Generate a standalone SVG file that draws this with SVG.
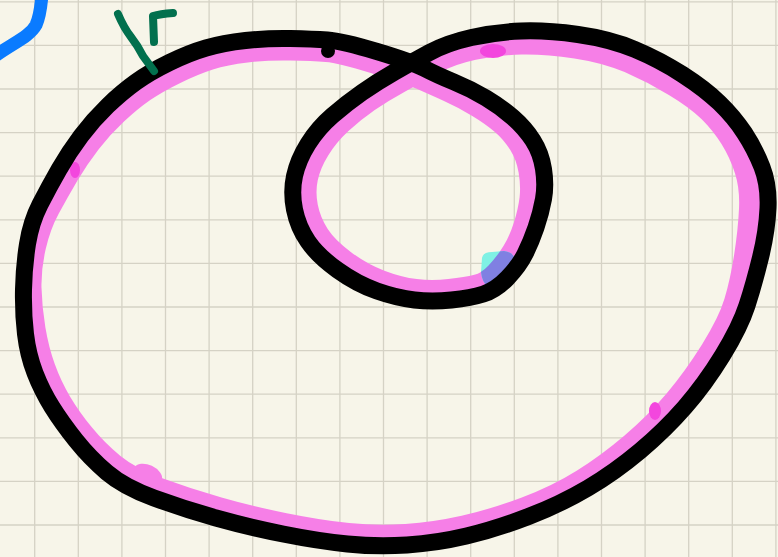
<svg xmlns="http://www.w3.org/2000/svg" xmlns:xlink="http://www.w3.org/1999/xlink" width="778" height="557" viewBox="0 0 778 557">
<style>
.grid{stroke:#d5d2c5;stroke-width:1.3;fill:none}
.ink{fill:none;stroke-linecap:round;stroke-linejoin:round}
.blk{stroke:#000;stroke-width:17}
.pnk{stroke:#f67fe7;stroke-width:22}
.dot{fill:#f346de}
</style>
<defs>
<path id="curve" d="M424.5,68.5 Q412,62 377,51.5 Q342,41 327.5,40 Q313,39 290.5,38.5 Q268,38 245.5,40.5 Q223,43 206,48 Q189,53 169.5,62.5 Q150,72 136,82 Q122,92 107.5,106 Q93,120 81,136 Q69,152 59,169.5 Q49,187 40,204.5 Q31,222 27.5,244 Q24,266 23.5,289.5 Q23,313 25.5,334 Q28,355 35,373 Q42,391 52,407 Q62,423 76,440.5 Q90,458 107,472.5 Q124,487 154,498 Q184,509 216,518 Q248,527 283,534 Q318,541 347.5,544 Q377,547 407,545 Q437,543 466.5,536 Q496,529 528.5,516.5 Q561,504 588,488 Q615,472 640,451 Q665,430 685,407 Q705,384 722.5,355.5 Q740,327 747,305.5 Q754,284 760.5,257.5 Q767,231 768,208 Q769,185 762,167 Q755,149 744.5,133 Q734,117 719.5,103 Q705,89 682.5,74.5 Q660,60 635,49.5 Q610,39 578,34.5 Q546,30 521,31 Q496,32 471.5,37.5 Q447,43 429.5,52.5 Q412,62 394.5,72 Q377,82 362,92.5 Q347,103 332.5,115.5 Q318,128 308,144 Q298,160 294.5,176 Q291,192 294.5,209.5 Q298,227 308,241.5 Q318,256 337.5,270 Q357,284 377,291 Q397,298 414.5,300 Q432,302 451.5,300 Q471,298 483.5,294 Q496,290 507.5,278 Q519,266 525,254 Q531,242 536,227.5 Q541,213 543.5,199 Q546,185 543.5,169 Q541,153 533,140.5 Q525,128 513,117.5 Q501,107 486,98 Q471,89 454,82 Q437,75 424.5,68.5 Z"/>
<path id="pcurve" d="M420.5,78.5 Q408,73 374,62.5 Q340,52 326.5,51 Q313,50 290.5,49.5 Q268,49 246.5,51.5 Q225,54 209.5,59 Q194,64 175.5,73 Q157,82 144,91 Q131,100 116.5,113.5 Q102,127 90,142.5 Q78,158 68,175 Q58,192 49,208.5 Q40,225 35,246.5 Q30,268 30.5,288 Q31,308 34.5,329 Q38,350 44.5,368 Q51,386 60.5,402 Q70,418 83.5,434.5 Q97,451 113.5,464.5 Q130,478 158.5,488.5 Q187,499 218.5,508 Q250,517 284.5,524 Q319,531 348,534 Q377,537 406,535 Q435,533 464,526.5 Q493,520 525,508 Q557,496 582.5,480 Q608,464 632,443.5 Q656,423 675,400.5 Q694,378 711.5,350 Q729,322 735,302 Q741,282 745,256.5 Q749,231 750,209 Q751,187 745.5,170 Q740,153 731,138.5 Q722,124 709.5,111.5 Q697,99 674.5,85.5 Q652,72 629,62 Q606,52 576,47.5 Q546,43 521.5,43.5 Q497,44 473.5,49 Q450,54 433,63.5 Q416,73 399.5,82 Q383,91 368.5,101 Q354,111 341,123 Q328,135 319,149.5 Q310,164 307,178 Q304,192 307,207 Q310,222 318.5,235 Q327,248 344.5,261 Q362,274 380.5,281 Q399,288 415.5,290 Q432,292 449.5,290 Q467,288 477,285.5 Q487,283 496.5,273 Q506,263 513,251.5 Q520,240 524.5,225.5 Q529,211 530.5,198.5 Q532,186 529.5,171 Q527,156 519.5,144 Q512,132 502,123.5 Q492,115 478,106.5 Q464,98 448.5,91 Q433,84 420.5,78.5 Z"/>
<clipPath id="blob"><path d="M482,258 Q483,252 492,252 L504,251 Q512,252 514,257 L516,268 L498,290 L488,287 Q482,282 481,272 Z"/></clipPath>
</defs>
<rect width="778" height="557" fill="#f7f5e9"/>
<g id="grid" class="grid">
<path d="M34.7,0V557M78.3,0V557M121.9,0V557M165.5,0V557M209.1,0V557M252.7,0V557M296.3,0V557M339.9,0V557M383.5,0V557M427.1,0V557M470.7,0V557M514.3,0V557M557.9,0V557M601.5,0V557M645.1,0V557M688.7,0V557M732.3,0V557M775.9,0V557"/>
<path d="M0,1.8H778M0,45.4H778M0,89H778M0,132.6H778M0,176.2H778M0,219.8H778M0,263.4H778M0,307H778M0,350.6H778M0,394.2H778M0,437.8H778M0,481.4H778M0,525H778"/>
</g>
<g id="highlight">
<use xlink:href="#pcurve" class="ink pnk"/>
<ellipse cx="148" cy="474" rx="15" ry="9" fill="#f67fe7" transform="rotate(25 148 474)"/>
<ellipse cx="440" cy="527" rx="18" ry="6" fill="#f67fe7" transform="rotate(-10 440 527)"/>
<ellipse class="dot" cx="493" cy="51" rx="13" ry="7"/>
<ellipse class="dot" cx="75" cy="170" rx="5" ry="8"/>
<ellipse class="dot" cx="655" cy="411" rx="6" ry="9"/>
</g>
<g id="cyan-mark">
<path d="M482,258 Q483,252 492,252 L504,251 Q512,252 514,257 L516,268 L498,290 L488,287 Q482,282 481,272 Z" fill="#7ff1e4"/>
<use xlink:href="#pcurve" class="ink" stroke="#8080e2" stroke-width="22" clip-path="url(#blob)"/>
</g>
<g id="curve-ink">
<use xlink:href="#curve" class="ink blk"/>
<circle cx="328" cy="51" r="7" fill="#000"/>
<circle cx="316" cy="38" r="6" fill="#000"/>
</g>
<path id="blue-arc" class="ink" stroke="#0a7bff" stroke-width="13" d="M-5,56 C15,42 30,36 36,25 C40,16 41,8 42,-6"/>
<g id="green-mark" class="ink" stroke="#02704e" stroke-width="8">
<path d="M118,14 Q124,28 131,37 Q138,46 143,56 L154,71"/>
<path d="M154,42 L153,16 Q160,14 173,13"/>
</g>
</svg>
